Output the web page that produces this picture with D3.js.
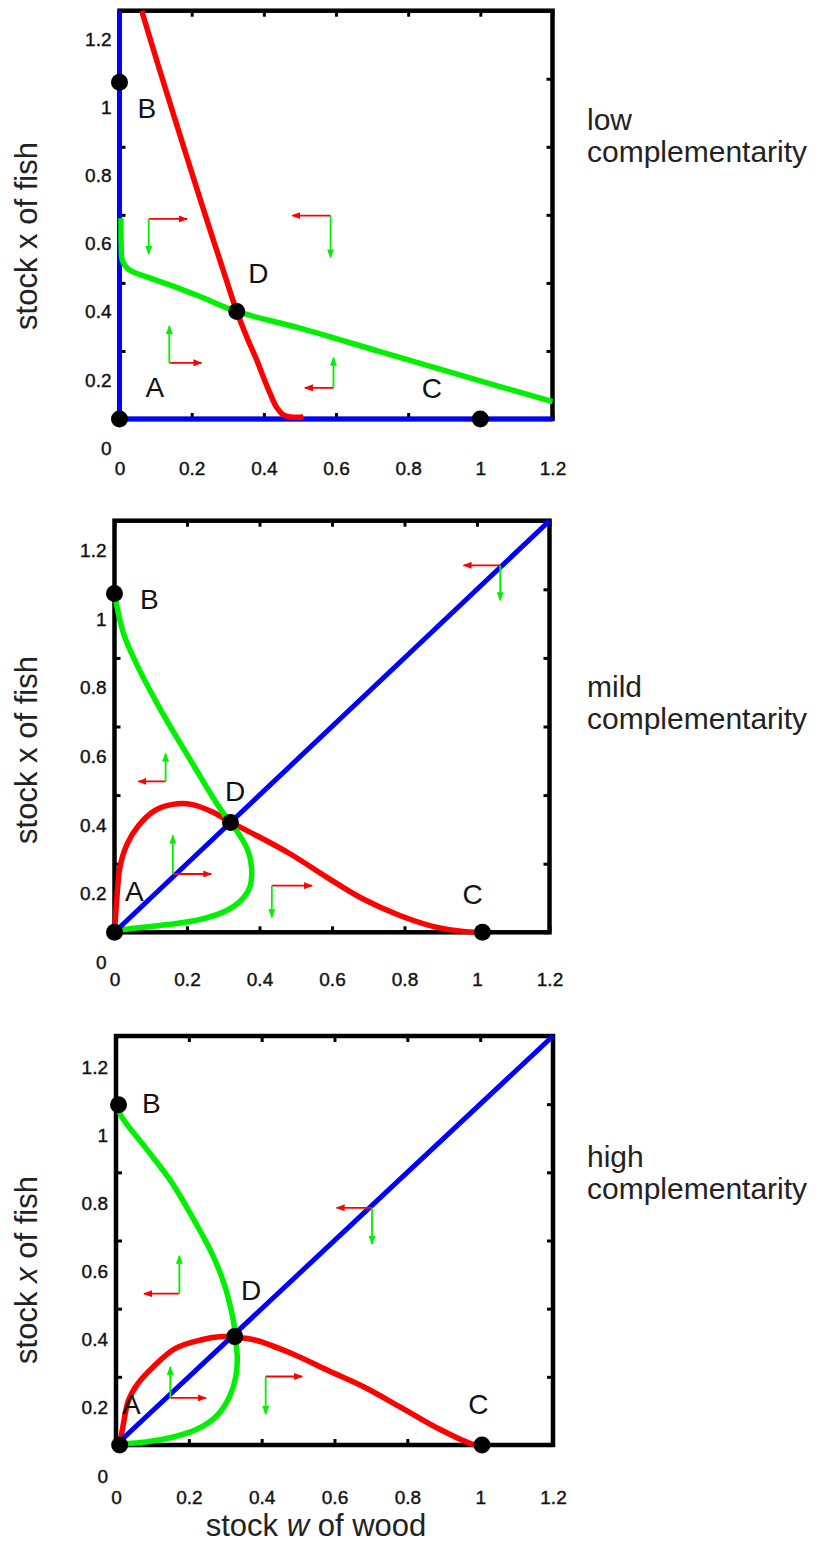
<!DOCTYPE html>
<html>
<head>
<meta charset="utf-8">
<script src="https://cdn.jsdelivr.net/npm/d3@7"></script>
<style>
  body { margin: 0; background: #fff; }
  svg { display: block; font-family: "Liberation Sans", Arial, sans-serif; }
</style>
</head>
<body>
<div id="chart"></div>
<script>
// tick values on both axes
const tickValues = [0, 0.2, 0.4, 0.6, 0.8, 1, 1.2]

// low complementarity: curves as [w, x]
const lowRed = [[0.0615, 1.2], [0.11, 1.03], [0.16, 0.86], [0.2, 0.725], [0.242, 0.585], [0.285, 0.445], [0.325, 0.316], [0.355, 0.235], [0.38, 0.174], [0.40, 0.12], [0.417, 0.076], [0.435, 0.035], [0.454, 0.012], [0.475, 0.006], [0.509, 0.006]]
const lowGreen = [[0.004, 0.59], [0.005, 0.5], [0.008, 0.465], [0.025, 0.44], [0.085, 0.414], [0.15, 0.39], [0.223, 0.36], [0.325, 0.316], [0.5, 0.267], [0.722, 0.198], [0.9, 0.143], [1.055, 0.095], [1.2, 0.051]]
const lowBlue = [[0, 1.2], [0, 0], [1.2, 0]]
const lowPoints = [[0, 0], [0, 0.99], [1.0, 0], [0.325, 0.316]]
// arrows: [corner w, corner x, red tip w, green tip x]
const lowArrows = [[0.081, 0.588, 0.187, 0.485], [0.585, 0.598, 0.479, 0.475], [0.138, 0.165, 0.227, 0.273], [0.593, 0.0915, 0.514, 0.18]]
const lowLetters = [['A', 0.098, 0.095], ['B', 0.076, 0.913], ['C', 0.866, 0.091], ['D', 0.385, 0.428]]

// mild complementarity
const mildRed = [[0, 0], [0.006, 0.092], [0.015, 0.19], [0.035, 0.258], [0.066, 0.311], [0.111, 0.355], [0.161, 0.373], [0.212, 0.373], [0.272, 0.35], [0.32, 0.321], [0.383, 0.287], [0.484, 0.229], [0.585, 0.161], [0.686, 0.097], [0.787, 0.049], [0.887, 0.015], [0.968, 0.002], [1.016, 0]]
const mildGreen = [[0, 0.988], [0.025, 0.871], [0.066, 0.771], [0.111, 0.68], [0.161, 0.587], [0.218, 0.487], [0.272, 0.392], [0.305, 0.34], [0.32, 0.321], [0.343, 0.287], [0.368, 0.238], [0.378, 0.19], [0.373, 0.131], [0.348, 0.092], [0.308, 0.063], [0.242, 0.039], [0.161, 0.024], [0.081, 0.015], [0.01, 0.005], [0, 0]]
const mildBlue = [[0, 0], [1.2, 1.2]]
const mildPoints = [[0, 0], [0, 0.988], [1.015, 0], [0.32, 0.32]]
const mildArrows = [[1.064, 1.07, 0.963, 0.968], [0.141, 0.44, 0.066, 0.521], [0.161, 0.17, 0.267, 0.282], [0.434, 0.136, 0.545, 0.044]]
const mildLetters = [['A', 0.055, 0.121], ['B', 0.096, 0.973], ['C', 0.988, 0.112], ['D', 0.333, 0.413]]

// high complementarity
const highRed = [[0.01, 0], [0.02, 0.06], [0.034, 0.13], [0.06, 0.18], [0.102, 0.229], [0.162, 0.283], [0.232, 0.308], [0.292, 0.318], [0.326, 0.316], [0.381, 0.308], [0.481, 0.269], [0.581, 0.219], [0.681, 0.17], [0.781, 0.111], [0.88, 0.051], [0.98, 0.002], [1.005, 0]]
const highGreen = [[0.007, 0.998], [0.012, 0.97], [0.082, 0.871], [0.152, 0.772], [0.212, 0.664], [0.262, 0.565], [0.296, 0.476], [0.316, 0.397], [0.326, 0.338], [0.327, 0.316], [0.333, 0.259], [0.329, 0.2], [0.311, 0.14], [0.277, 0.086], [0.222, 0.046], [0.152, 0.022], [0.082, 0.009], [0.017, 0.002], [0.01, 0]]
const highBlue = [[0, 0], [1.2, 1.2]]
const highPoints = [[0.01, 0], [0.007, 0.998], [1.005, 0], [0.326, 0.318]]
const highArrows = [[0.703, 0.696, 0.606, 0.59], [0.174, 0.444, 0.077, 0.555], [0.149, 0.138, 0.247, 0.229], [0.411, 0.201, 0.511, 0.091]]
const highLetters = [['A', 0.042, 0.121], ['B', 0.097, 1.005], ['C', 0.995, 0.121], ['D', 0.371, 0.456]]

const captions = [['low', 'complementarity'], ['mild', 'complementarity'], ['high', 'complementarity']]

const RED = '#ff0000'
const GREEN = '#00f000'
const BLUE = '#0000ff'

// layout of the three frames (pixels)
const panels = [
  { frame: { left: 119.5, right: 552.5, top: 10.7, bottom: 419 }, red: lowRed, green: lowGreen, blue: lowBlue, points: lowPoints, arrows: lowArrows, letters: lowLetters, caption: captions[0], capY: 130, titleY: 236, xLab: 49, yLab: 29, italicX: false, blueFirst: true },
  { frame: { left: 114.5, right: 549.5, top: 520.7, bottom: 932.3 }, red: mildRed, green: mildGreen, blue: mildBlue, points: mildPoints, arrows: mildArrows, letters: mildLetters, caption: captions[1], capY: 697, titleY: 750, xLab: 47, yLab: 30, italicX: false, blueFirst: false },
  { frame: { left: 116, right: 553, top: 1036, bottom: 1445 }, red: highRed, green: highGreen, blue: highBlue, points: highPoints, arrows: highArrows, letters: highLetters, caption: captions[2], capY: 1167, titleY: 1270, xLab: 52, yLab: 31, italicX: true, blueFirst: false }
]

const svg = d3.select('#chart').append('svg')
  .attr('width', 825)
  .attr('height', 1547)

const defs = svg.append('defs')
;[['red', RED], ['green', GREEN]].forEach(([id, c]) => {
  defs.append('marker')
    .attr('id', 'head-' + id)
    .attr('markerUnits', 'userSpaceOnUse')
    .attr('viewBox', '0 0 9 7')
    .attr('markerWidth', 9)
    .attr('markerHeight', 7)
    .attr('refX', 8)
    .attr('refY', 3.5)
    .attr('orient', 'auto')
    .append('path')
    .attr('d', 'M0,0 L9,3.5 L0,7 Z')
    .attr('fill', c)
})

panels.forEach((p) => {
  const f = p.frame
  const x = d3.scaleLinear().domain([0, 1.2]).range([f.left, f.right])
  const y = d3.scaleLinear().domain([0, 1.2]).range([f.bottom, f.top])
  const g = svg.append('g')

  // frame
  g.append('rect')
    .attr('x', f.left)
    .attr('y', f.top)
    .attr('width', f.right - f.left)
    .attr('height', f.bottom - f.top)
    .attr('fill', 'none')
    .attr('stroke', '#000')
    .attr('stroke-width', 4.5)

  // inward ticks on all four sides
  const styleAxis = (sel) => {
    sel.select('.domain').remove()
    sel.selectAll('.tick line').attr('stroke', '#000').attr('stroke-width', 3)
    sel.selectAll('.tick text')
      .attr('fill', '#111')
      .attr('stroke', '#111')
      .attr('stroke-width', 0.4)
      .style('font-size', '19px')
  }
  g.append('g')
    .attr('transform', `translate(0,${f.bottom})`)
    .call(d3.axisBottom(x).tickValues(tickValues).tickSize(-6).tickPadding(0).tickFormat(d3.format('~g')))
    .call(styleAxis)
    .call(s => s.selectAll('.tick text').attr('y', p.xLab).attr('dy', '0.35em'))
  g.append('g')
    .attr('transform', `translate(${f.left},0)`)
    .call(d3.axisLeft(y).tickValues(tickValues).tickSize(-6).tickPadding(8).tickFormat(d3.format('~g')))
    .call(styleAxis)
    .call(s => s.selectAll('.tick text').attr('y', p.yLab))
  g.append('g')
    .attr('transform', `translate(0,${f.top})`)
    .call(d3.axisTop(x).tickValues(tickValues).tickSize(-6).tickFormat(''))
    .call(styleAxis)
  g.append('g')
    .attr('transform', `translate(${f.right},0)`)
    .call(d3.axisRight(y).tickValues(tickValues).tickSize(-6).tickFormat(''))
    .call(styleAxis)

  const line = d3.line()
    .x(d => x(d[0]))
    .y(d => y(d[1]))
    .curve(d3.curveCatmullRom.alpha(0.5))

  const drawCurve = (data, color, width) => {
    g.append('path')
      .datum(data)
      .attr('d', line)
      .attr('fill', 'none')
      .attr('stroke', color)
      .attr('stroke-width', width)
      .attr('stroke-linejoin', 'round')
  }
  const blueLine = d3.line().x(d => x(d[0])).y(d => y(d[1]))
  const drawBlue = () => {
    g.append('path')
      .datum(p.blue)
      .attr('d', blueLine)
      .attr('fill', 'none')
      .attr('stroke', BLUE)
      .attr('stroke-width', 5)
  }

  if (p.blueFirst) drawBlue()
  drawCurve(p.red, RED, 5.5)
  drawCurve(p.green, GREEN, 5.5)
  if (!p.blueFirst) drawBlue()

  // direction arrows
  p.arrows.forEach(a => {
    g.append('line')
      .attr('x1', x(a[0])).attr('y1', y(a[1]))
      .attr('x2', x(a[2])).attr('y2', y(a[1]))
      .attr('stroke', RED)
      .attr('stroke-width', 1.8)
      .attr('marker-end', 'url(#head-red)')
    g.append('line')
      .attr('x1', x(a[0])).attr('y1', y(a[1]))
      .attr('x2', x(a[0])).attr('y2', y(a[3]))
      .attr('stroke', GREEN)
      .attr('stroke-width', 1.8)
      .attr('marker-end', 'url(#head-green)')
  })

  // equilibria
  g.selectAll('circle.eq')
    .data(p.points)
    .join('circle')
    .attr('class', 'eq')
    .attr('cx', d => x(d[0]))
    .attr('cy', d => y(d[1]))
    .attr('r', 8.5)
    .attr('fill', '#000')

  g.selectAll('text.letter')
    .data(p.letters)
    .join('text')
    .attr('class', 'letter')
    .attr('x', d => x(d[1]))
    .attr('y', d => y(d[2]))
    .attr('dy', '0.36em')
    .attr('text-anchor', 'middle')
    .style('font-size', '28px')
    .attr('fill', '#111')
    .text(d => d[0])

  // y title
  const yt = g.append('text')
    .attr('transform', `translate(37,${p.titleY}) rotate(-90)`)
    .attr('text-anchor', 'middle')
    .style('font-size', '31px')
    .attr('fill', '#222')
  yt.append('tspan').text('stock ')
  yt.append('tspan').style('font-style', p.italicX ? 'italic' : 'normal').text('x')
  yt.append('tspan').text(' of fish')

  // caption on the right
  g.selectAll('text.cap')
    .data(p.caption)
    .join('text')
    .attr('class', 'cap')
    .attr('x', 587)
    .attr('y', (d, i) => p.capY + i * 32)
    .style('font-size', '30px')
    .attr('fill', '#222')
    .text(d => d)
})

// x title under the last panel
const xt = svg.append('text')
  .attr('x', 316)
  .attr('y', 1536)
  .attr('text-anchor', 'middle')
  .style('font-size', '31px')
  .attr('fill', '#222')
xt.append('tspan').text('stock ')
xt.append('tspan').style('font-style', 'italic').text('w')
xt.append('tspan').text(' of wood')
</script>
</body>
</html>
